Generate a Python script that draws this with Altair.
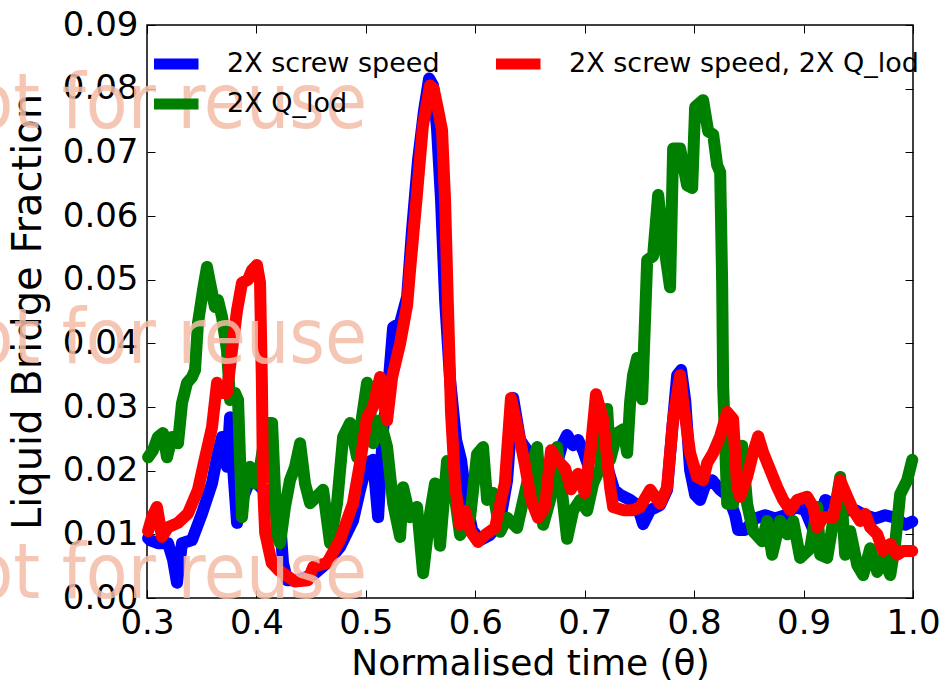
import altair as alt
import pandas as pd

# ---------------- data ----------------
S_BLUE = "2X screw speed"
S_RED = "2X screw speed, 2X Q_lod"
S_GREEN = "2X Q_lod"

blue_t = [0.3010, 0.3027, 0.3100, 0.3192, 0.3238, 0.3274, 0.3320, 0.3411, 0.3503, 0.3594,
          0.3640, 0.3686, 0.3731, 0.3759, 0.3786, 0.3823, 0.3868, 0.3941, 0.4005, 0.4124,
          0.4216, 0.4243, 0.4280, 0.4371, 0.4517, 0.4645, 0.4764, 0.4883, 0.4947, 0.5011,
          0.5066, 0.5112, 0.5157, 0.5203, 0.5249, 0.5313, 0.5377, 0.5422, 0.5477, 0.5532,
          0.5578, 0.5614, 0.5651, 0.5687, 0.5724, 0.5770, 0.5825, 0.5870, 0.5916, 0.5971,
          0.6044, 0.6135, 0.6227, 0.6291, 0.6346, 0.6410, 0.6474, 0.6538, 0.6602, 0.6665,
          0.6729, 0.6793, 0.6839, 0.6894, 0.6940, 0.6985, 0.7031, 0.7086, 0.7113, 0.7159,
          0.7214, 0.7269, 0.7324, 0.7415, 0.7479, 0.7534, 0.7598, 0.7689, 0.7753, 0.7799,
          0.7845, 0.7881, 0.7918, 0.7963, 0.8009, 0.8055, 0.8100, 0.8164, 0.8238, 0.8311,
          0.8375, 0.8402, 0.8466, 0.8558, 0.8649, 0.8740, 0.8832, 0.8923, 0.9015, 0.9106,
          0.9198, 0.9289, 0.9380, 0.9472, 0.9563, 0.9655, 0.9746, 0.9838, 0.9929, 0.9993]
blue_f = [0.0094, 0.0091, 0.0086, 0.0086, 0.0060, 0.0024, 0.0086, 0.0091, 0.0133, 0.0180,
          0.0221, 0.0253, 0.0206, 0.0284, 0.0206, 0.0118, 0.0154, 0.0185, 0.0180, 0.0159,
          0.0122, 0.0055, 0.0028, 0.0028, 0.0036, 0.0055, 0.0080, 0.0122, 0.0170, 0.0212,
          0.0217, 0.0127, 0.0264, 0.0327, 0.0425, 0.0432, 0.0473, 0.0578, 0.0688, 0.0766,
          0.0816, 0.0805, 0.0735, 0.0625, 0.0468, 0.0342, 0.0248, 0.0217, 0.0154, 0.0107,
          0.0091, 0.0099, 0.0122, 0.0185, 0.0314, 0.0248, 0.0232, 0.0154, 0.0130, 0.0146,
          0.0201, 0.0240, 0.0256, 0.0240, 0.0248, 0.0232, 0.0209, 0.0264, 0.0303, 0.0264,
          0.0201, 0.0170, 0.0162, 0.0154, 0.0146, 0.0116, 0.0138, 0.0146, 0.0170, 0.0264,
          0.0350, 0.0358, 0.0311, 0.0201, 0.0162, 0.0154, 0.0177, 0.0185, 0.0170, 0.0160,
          0.0130, 0.0107, 0.0107, 0.0125, 0.0130, 0.0125, 0.0130, 0.0143, 0.0138, 0.0100,
          0.0154, 0.0146, 0.0138, 0.0138, 0.0130, 0.0125, 0.0130, 0.0126, 0.0115, 0.0120]

red_t = [0.3010, 0.3046, 0.3091, 0.3137, 0.3192, 0.3283, 0.3375, 0.3466, 0.3530, 0.3594,
         0.3640, 0.3686, 0.3730, 0.3777, 0.3823, 0.3868, 0.3923, 0.3960, 0.4005, 0.4033,
         0.4050, 0.4060, 0.4080, 0.4140, 0.4200, 0.4353, 0.4470, 0.4520, 0.4645, 0.4764,
         0.4883, 0.4947, 0.5011, 0.5066, 0.5130, 0.5194, 0.5240, 0.5313, 0.5377, 0.5404,
         0.5468, 0.5520, 0.5586, 0.5620, 0.5668, 0.5696, 0.5724, 0.5750, 0.5778, 0.5815,
         0.5860, 0.5906, 0.5960, 0.6024, 0.6090, 0.6180, 0.6270, 0.6326, 0.6390, 0.6454,
         0.6510, 0.6574, 0.6637, 0.6692, 0.6756, 0.6820, 0.6875, 0.6939, 0.7000, 0.7057,
         0.7103, 0.7168, 0.7232, 0.7260, 0.7351, 0.7442, 0.7506, 0.7598, 0.7689, 0.7753,
         0.7808, 0.7872, 0.7899, 0.7963, 0.8027, 0.8082, 0.8119, 0.8174, 0.8238, 0.8302,
         0.8356, 0.8393, 0.8420, 0.8484, 0.8539, 0.8585, 0.8631, 0.8695, 0.8759, 0.8814,
         0.8878, 0.8942, 0.9033, 0.9088, 0.9124, 0.9179, 0.9271, 0.9335, 0.9399, 0.9453,
         0.9517, 0.9563, 0.9609, 0.9673, 0.9728, 0.9792, 0.9856, 0.9911, 0.9993]
red_f = [0.0105, 0.0127, 0.0143, 0.0096, 0.0111, 0.0118, 0.0133, 0.0170, 0.0220, 0.0268,
         0.0338, 0.0322, 0.0322, 0.0390, 0.0452, 0.0495, 0.0500, 0.0515, 0.0523, 0.0495,
         0.0338, 0.0180, 0.0102, 0.0055, 0.0044, 0.0026, 0.0028, 0.0049, 0.0055, 0.0091,
         0.0149, 0.0212, 0.0284, 0.0300, 0.0347, 0.0279, 0.0347, 0.0400, 0.0460, 0.0515,
         0.0636, 0.0740, 0.0805, 0.0800, 0.0760, 0.0735, 0.0623, 0.0458, 0.0292, 0.0180,
         0.0115, 0.0137, 0.0104, 0.0088, 0.0099, 0.0110, 0.0180, 0.0314, 0.0264, 0.0209,
         0.0154, 0.0126, 0.0143, 0.0232, 0.0215, 0.0204, 0.0171, 0.0195, 0.0165, 0.0237,
         0.0320, 0.0281, 0.0174, 0.0143, 0.0138, 0.0138, 0.0143, 0.0170, 0.0148, 0.0174,
         0.0281, 0.0350, 0.0308, 0.0228, 0.0190, 0.0185, 0.0212, 0.0228, 0.0254, 0.0292,
         0.0281, 0.0174, 0.0159, 0.0190, 0.0228, 0.0254, 0.0228, 0.0201, 0.0174, 0.0154,
         0.0138, 0.0154, 0.0159, 0.0143, 0.0111, 0.0127, 0.0127, 0.0185, 0.0159, 0.0138,
         0.0121, 0.0132, 0.0111, 0.0100, 0.0074, 0.0085, 0.0068, 0.0074, 0.0074]

green_t = [0.3010, 0.3055, 0.3100, 0.3146, 0.3183, 0.3229, 0.3283, 0.3320, 0.3366, 0.3411,
           0.3439, 0.3466, 0.3512, 0.3548, 0.3576, 0.3621, 0.3649, 0.3686, 0.3731, 0.3759,
           0.3804, 0.3832, 0.3868, 0.3896, 0.3941, 0.3987, 0.4033, 0.4097, 0.4143, 0.4188,
           0.4216, 0.4261, 0.4307, 0.4353, 0.4399, 0.4444, 0.4490, 0.4554, 0.4609, 0.4673,
           0.4737, 0.4792, 0.4856, 0.4920, 0.4965, 0.5011, 0.5038, 0.5066, 0.5130, 0.5194,
           0.5249, 0.5313, 0.5340, 0.5404, 0.5468, 0.5523, 0.5587, 0.5632, 0.5678, 0.5742,
           0.5797, 0.5861, 0.5952, 0.6016, 0.6071, 0.6108, 0.6163, 0.6227, 0.6291, 0.6382,
           0.6473, 0.6565, 0.6620, 0.6684, 0.6748, 0.6839, 0.6894, 0.6958, 0.7022, 0.7077,
           0.7141, 0.7205, 0.7232, 0.7296, 0.7351, 0.7388, 0.7415, 0.7442, 0.7479, 0.7525,
           0.7552, 0.7571, 0.7625, 0.7671, 0.7717, 0.7780, 0.7808, 0.7872, 0.7936, 0.7982,
           0.8009, 0.8082, 0.8128, 0.8174, 0.8210, 0.8238, 0.8256, 0.8265, 0.8302, 0.8356,
           0.8439, 0.8484, 0.8539, 0.8622, 0.8667, 0.8713, 0.8786, 0.8850, 0.8905, 0.8969,
           0.9061, 0.9124, 0.9152, 0.9216, 0.9271, 0.9335, 0.9380, 0.9426, 0.9490, 0.9545,
           0.9609, 0.9673, 0.9728, 0.9792, 0.9837, 0.9883, 0.9947, 0.9993]
green_f = [0.0221, 0.0232, 0.0253, 0.0259, 0.0221, 0.0253, 0.0243, 0.0306, 0.0338, 0.0347,
           0.0358, 0.0432, 0.0484, 0.0520, 0.0495, 0.0457, 0.0468, 0.0441, 0.0389, 0.0311,
           0.0322, 0.0311, 0.0127, 0.0180, 0.0206, 0.0180, 0.0206, 0.0275, 0.0275, 0.0096,
           0.0086, 0.0143, 0.0185, 0.0206, 0.0243, 0.0180, 0.0149, 0.0160, 0.0170, 0.0086,
           0.0149, 0.0253, 0.0275, 0.0221, 0.0284, 0.0338, 0.0300, 0.0243, 0.0279, 0.0237,
           0.0149, 0.0096, 0.0174, 0.0127, 0.0143, 0.0039, 0.0133, 0.0180, 0.0082, 0.0215,
           0.0180, 0.0099, 0.0126, 0.0226, 0.0237, 0.0154, 0.0165, 0.0104, 0.0126, 0.0110,
           0.0180, 0.0237, 0.0115, 0.0154, 0.0237, 0.0093, 0.0137, 0.0154, 0.0137, 0.0180,
           0.0204, 0.0297, 0.0217, 0.0259, 0.0265, 0.0228, 0.0308, 0.0350, 0.0377, 0.0312,
           0.0441, 0.0531, 0.0537, 0.0633, 0.0564, 0.0488, 0.0706, 0.0706, 0.0648, 0.0644,
           0.0771, 0.0782, 0.0733, 0.0728, 0.0680, 0.0669, 0.0495, 0.0334, 0.0148, 0.0148,
           0.0239, 0.0148, 0.0105, 0.0089, 0.0121, 0.0068, 0.0121, 0.0100, 0.0121, 0.0063,
           0.0078, 0.0143, 0.0068, 0.0063, 0.0121, 0.0190, 0.0068, 0.0105, 0.0052, 0.0036,
           0.0078, 0.0041, 0.0063, 0.0036, 0.0085, 0.0163, 0.0185, 0.0217]

x_ticks = [0.3, 0.4, 0.5, 0.6, 0.7, 0.8, 0.9, 1.0]
y_ticks = [0.00, 0.01, 0.02, 0.03, 0.04, 0.05, 0.06, 0.07, 0.08, 0.09]
WATERMARK = "not for reuse"

# ---------------- chart ----------------
W, H = 766, 573
FONT = "DejaVu Sans"

def frame(ts, fs, name):
    return pd.DataFrame({"t": ts, "f": fs, "series": name})

blue_df = frame(blue_t, blue_f, S_BLUE)
red_df = frame(red_t, red_f, S_RED)
green_df = frame(green_t, green_f, S_GREEN)

xscale = alt.Scale(domain=[0.3, 1.0], nice=False, zero=False)
yscale = alt.Scale(domain=[0.0, 0.09], nice=False, zero=False)

legend = alt.Legend(
    title=None, orient="none", legendX=7, legendY=24, columns=2,
    symbolType="M-1.6,0H1.6", symbolSize=900, symbolStrokeWidth=11,
    labelFontSize=27, labelFont=FONT, labelColor="black", labelOffset=32,
    columnPadding=56, rowPadding=10, clipHeight=30, labelLimit=0, padding=0,
)
color = alt.Color(
    "series:N",
    scale=alt.Scale(domain=[S_BLUE, S_GREEN, S_RED], range=["#0000ff", "#008000", "#ff0000"]),
    legend=legend,
)

main_x_axis = alt.Axis(
    orient="bottom", values=x_ticks, format=".1f", ticks=False, domain=False, grid=False,
    labelFont=FONT, labelFontSize=34, labelColor="black", labelPadding=8, labelFlush=False,
    title="Normalised time (θ)", titleFont=FONT, titleFontSize=36, titleFontWeight="normal",
    titleColor="black", titlePadding=6,
)
main_y_axis = alt.Axis(
    orient="left", values=y_ticks, format=".2f", ticks=False, domain=False, grid=False,
    labelFont=FONT, labelFontSize=34, labelColor="black", labelPadding=9, labelFlush=False,
    title="Liquid Bridge Fraction", titleFont=FONT, titleFontSize=40, titleFontWeight="normal",
    titleColor="black", titlePadding=14,
)

def tick_axis(orient, values, offset):
    return alt.Axis(orient=orient, values=values, labels=False, ticks=True, tickSize=8,
                    tickWidth=1, tickColor="black", domain=False, grid=False, title=None,
                    offset=offset)

line_style = dict(strokeWidth=12, strokeJoin="round", strokeCap="round")

def series(df, xa=None, ya=None):
    return alt.Chart(df).mark_line(**line_style).encode(
        x=alt.X("t:Q", scale=xscale, axis=xa),
        y=alt.Y("f:Q", scale=yscale, axis=ya),
        color=color,
    )

blue_layer = series(blue_df, main_x_axis, main_y_axis)
green_layer = series(green_df)
red_layer = series(red_df)

ticks_a = alt.Chart(blue_df).mark_line(opacity=0).encode(
    x=alt.X("t:Q", scale=xscale, axis=tick_axis("top", x_ticks, -H)),
    y=alt.Y("f:Q", scale=yscale, axis=tick_axis("right", y_ticks, -W)),
)
ticks_b = alt.Chart(blue_df).mark_line(opacity=0).encode(
    x=alt.X("t:Q", scale=xscale, axis=tick_axis("bottom", x_ticks, -H)),
    y=alt.Y("f:Q", scale=yscale, axis=tick_axis("left", y_ticks, -W)),
)

def watermark(ypix):
    return alt.Chart(pd.DataFrame({"w": [WATERMARK]})).mark_text(
        align="right", baseline="alphabetic", fontSize=76, font="DejaVu Sans Condensed",
        color="#f5bda8", opacity=0.85,
    ).encode(text="w:N", x=alt.value(220), y=alt.value(ypix))

chart = alt.layer(
    blue_layer, green_layer, red_layer, ticks_a, ticks_b,
    watermark(103), watermark(338), watermark(573),
).resolve_axis(x="independent", y="independent").properties(
    width=W, height=H,
    padding={"left": 147, "top": 25, "right": 34, "bottom": 87},
    autosize=alt.AutoSizeParams(type="none"),
    background="white",
).configure_view(stroke="black", strokeWidth=1.5)

chart.save("out.html", embed_options={"renderer": "svg", "actions": False})
